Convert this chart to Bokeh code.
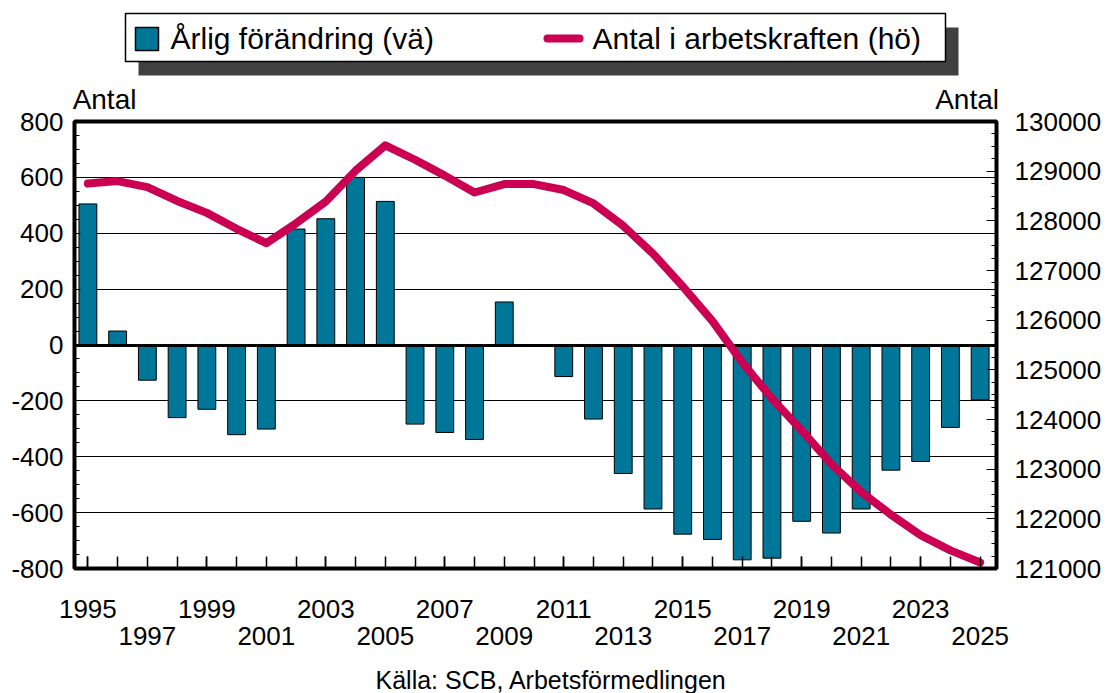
from bokeh.plotting import figure
from bokeh.models import (Range1d, LinearAxis, FixedTicker)
from bokeh.layouts import column
from bokeh.core.properties import value
from bokeh.embed import file_html
from bokeh.resources import INLINE

# ---------------- data ----------------
years = list(range(1995, 2026))
change = [505, 50, -126, -260, -230, -321, -301, 415, 452, 600, 514, -283, -313,
          -338, 154, 0, -113, -265, -460, -587, -677, -696, -769, -763, -631,
          -673, -587, -448, -417, -295, -196]
labor = [128750, 128800, 128680, 128400, 128160, 127840, 127550, 127950, 128390,
         129010, 129520, 129230, 128910, 128570, 128740, 128740, 128620, 128350,
         127900, 127340, 126680, 125980, 125150, 124420, 123780, 123100, 122540,
         122085, 121670, 121365, 121120]

row1_years = [1995, 1999, 2003, 2007, 2011, 2015, 2019, 2023]
row2_years = [1997, 2001, 2005, 2009, 2013, 2017, 2021, 2025]
left_ticks = [-800, -600, -400, -200, 0, 200, 400, 600, 800]
left_labels = ["-800", "-600", "-400", "-200", "0", "200", "400", "600", "800"]
left_minor = list(range(-800, 801, 50))
grid_ticks = [-600, -400, -200, 200, 400, 600]
right_ticks = [121000, 122000, 123000, 124000, 125000, 126000, 127000, 128000, 129000, 130000]
right_labels = ["121000", "122000", "123000", "124000", "125000", "126000",
                "127000", "128000", "129000", "130000"]
right_minor = list(range(121000, 130001, 250))

legend_bar_label = "Årlig förändring (vä)"
legend_line_label = "Antal i arbetskraften (hö)"
unit_label = "Antal"
source_label = "Källa: SCB, Arbetsförmedlingen"

BAR = "#007699"
LINE = "#CC0052"
FONT = "Liberation Sans"
W = 1105
TOP_H = 80
FRAME_TOP, FRAME_BOTTOM, FRAME_LEFT, FRAME_RIGHT = 120, 568, 74, 996
BOTTOM_BORDER = 88
MAIN_H = (FRAME_TOP - TOP_H) + (FRAME_BOTTOM - FRAME_TOP) + BOTTOM_BORDER
FOOT_TOP = TOP_H + MAIN_H
PAGE_H = 693
X0, X1 = 1994.55, 2025.55
unit_pos = [1995.56, 2024.56]   # centres of the two "Antal" texts above the frame


def strip(height, y0):
    f = figure(width=W, height=height, output_backend="svg", toolbar_location=None,
               x_range=Range1d(0, W), y_range=Range1d(y0 + height, y0),
               x_axis_location=None, y_axis_location=None,
               min_border=0, min_border_left=0, min_border_right=0,
               min_border_top=0, min_border_bottom=0, outline_line_color=None)
    f.frame_align = False
    f.grid.visible = False
    return f


# ---------------- legend strip (window pixel coordinates) ----------------
lg = strip(TOP_H, 0)
lg.quad(left=[138], right=[958], top=[27], bottom=[75], fill_color="#404040", line_color=None)
lg.quad(left=[125], right=[945], top=[13], bottom=[61], fill_color="white",
        line_color="black", line_width=1.5)
lg.quad(left=[135], right=[158], top=[27], bottom=[50], fill_color=BAR,
        line_color="black", line_width=1.5)
lg.text(x=[170], y=[38], text=[legend_bar_label], text_font=value(FONT),
        text_font_size="30px", text_baseline="middle", text_align="left", text_color="black")
lg.segment(x0=[547], y0=[38], x1=[579], y1=[38], line_color=LINE, line_width=8, line_cap="round")
lg.text(x=[592], y=[38], text=[legend_line_label], text_font=value(FONT),
        text_font_size="30px", text_baseline="middle", text_align="left", text_color="black")

# ---------------- main chart ----------------
p = figure(width=W, height=MAIN_H, output_backend="svg", toolbar_location=None,
           x_range=Range1d(X0, X1), y_range=Range1d(-800, 800),
           x_axis_location=None, y_axis_location=None,
           min_border_left=FRAME_LEFT, min_border_right=W - FRAME_RIGHT,
           min_border_top=FRAME_TOP - TOP_H, min_border_bottom=BOTTOM_BORDER,
           outline_line_color="black", outline_line_width=4,
           background_fill_color="white", border_fill_color="white")
p.frame_align = False
p.extra_y_ranges = {"right": Range1d(121000, 130000)}

p.xgrid.visible = False
p.ygrid.ticker = FixedTicker(ticks=grid_ticks)
p.ygrid.grid_line_color = "black"
p.ygrid.grid_line_width = 1

p.vbar(x=years, top=change, bottom=0, width=0.6, fill_color=BAR, line_color="black", line_width=1)
p.hspan(y=[0], line_color="black", line_width=3)
p.line(x=years, y=labor, y_range_name="right", line_color=LINE, line_width=8,
       line_join="round", line_cap="round")

# "Antal" unit texts above the frame
ax_top = LinearAxis(ticker=FixedTicker(ticks=unit_pos, minor_ticks=[]),
                    major_label_overrides={v: unit_label for v in unit_pos})
ax_top.axis_line_color = None
ax_top.major_tick_line_color = None
ax_top.minor_tick_line_color = None
ax_top.major_tick_in = 0
ax_top.major_tick_out = 0
ax_top.minor_tick_in = 0
ax_top.minor_tick_out = 0
ax_top.major_label_standoff = 7
ax_top.major_label_text_font = FONT
ax_top.major_label_text_font_size = "28px"
ax_top.major_label_text_color = "black"
p.add_layout(ax_top, "above")

# left axis
ly = LinearAxis(ticker=FixedTicker(ticks=left_ticks, minor_ticks=left_minor),
                major_label_overrides=dict(zip(left_ticks, left_labels)))
ly.axis_line_color = None
ly.major_tick_in = 6
ly.major_tick_out = 0
ly.minor_tick_in = 5
ly.minor_tick_out = 0
ly.major_label_standoff = 11
ly.major_label_text_font = FONT
ly.major_label_text_font_size = "26px"
ly.major_label_text_color = "black"
p.add_layout(ly, "left")

# right axis
ry = LinearAxis(y_range_name="right",
                ticker=FixedTicker(ticks=right_ticks, minor_ticks=right_minor),
                major_label_overrides=dict(zip(right_ticks, right_labels)))
ry.axis_line_color = None
ry.major_tick_in = 10
ry.major_tick_out = 0
ry.minor_tick_in = 5
ry.minor_tick_out = 0
ry.major_label_standoff = 18
ry.major_label_text_font = FONT
ry.major_label_text_font_size = "26px"
ry.major_label_text_color = "black"
p.add_layout(ry, "right")

# bottom axis: ticks every year, first row of labels
bx = LinearAxis(ticker=FixedTicker(ticks=row1_years, minor_ticks=years))
bx.axis_line_color = None
bx.major_tick_in = 12
bx.major_tick_out = 0
bx.minor_tick_in = 12
bx.minor_tick_out = 0
bx.major_tick_line_width = 1.5
bx.minor_tick_line_width = 1.5
bx.major_label_standoff = 31
bx.major_label_text_font = FONT
bx.major_label_text_font_size = "26px"
bx.major_label_text_color = "black"
p.add_layout(bx, "below")

# second row of labels
bx2 = LinearAxis(ticker=FixedTicker(ticks=row2_years, minor_ticks=[]))
bx2.axis_line_color = None
bx2.major_tick_line_color = None
bx2.minor_tick_line_color = None
bx2.major_tick_in = 0
bx2.major_tick_out = 0
bx2.minor_tick_in = 0
bx2.minor_tick_out = 0
bx2.major_label_standoff = 6
bx2.major_label_text_font = FONT
bx2.major_label_text_font_size = "26px"
bx2.major_label_text_color = "black"
p.add_layout(bx2, "below")

# ---------------- footer (source) ----------------
ft = strip(PAGE_H - FOOT_TOP, FOOT_TOP)
ft.text(x=[375], y=[679], text=[source_label], text_font=value(FONT), text_font_size="25px",
        text_baseline="middle", text_align="left", text_color="black")

layout = column(lg, p, ft, spacing=0)
open("out.html", "w").write(file_html(layout, INLINE))
